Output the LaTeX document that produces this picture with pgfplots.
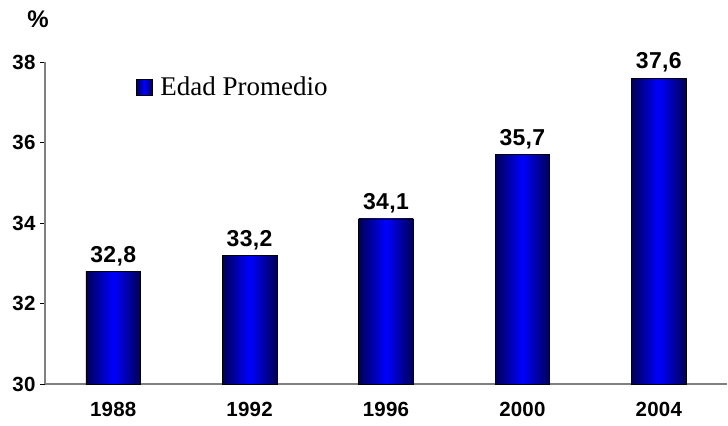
\documentclass[border=0pt]{standalone}
\usepackage{fontspec}
\setmainfont{Liberation Serif}
\setsansfont{Liberation Sans}
\usepackage{pgfplots}
\pgfplotsset{compat=1.18}

\definecolor{barDark}{RGB}{0,0,85}
\definecolor{barMid}{RGB}{0,0,255}
\definecolor{axisGray}{RGB}{128,128,128}

\pgfplotsset{
    edadbar/.style={draw=black, line width=0.5bp, bar shift=0pt,
        left color=barDark, right color=barDark, middle color=barMid},
}

\begin{document}
\begin{tikzpicture}
\begin{axis}[
    width=682bp, height=322bp,
    scale only axis,
    xmin=-0.5, xmax=4.5,
    ymin=30, ymax=38,
    ytick={30,32,34,36,38},
    xtick={0,1,2,3,4},
    xticklabels={1988,1992,1996,2000,2004},
    axis x line=bottom, axis y line=left,
    axis line style={-, draw=axisGray, line width=1.6bp},
    tick align=outside,
    major tick length=5bp,
    y tick style={black, line width=0.8bp},
    x tick style={draw=none},
    extra x ticks={0.5,1.5,2.5,3.5},
    extra x tick labels={},
    extra x tick style={major tick length=6bp, tick style={draw=black!80, line width=0.8bp}},
    ticklabel style={font=\fontsize{20.5bp}{22bp}\sffamily\bfseries\addfontfeature{LetterSpace=1}},
    yticklabel style={xshift=-1bp},
    xticklabel style={yshift=-10bp},
    /pgf/number format/assume math mode=true,
    clip=false,
    ybar, bar width=0.4,
    nodes near coords,
    nodes near coords style={font=\fontsize{23bp}{25bp}\sffamily\bfseries\addfontfeature{LetterSpace=1.5},
        yshift=2bp,
        /pgf/number format/.cd, use comma, fixed, fixed zerofill, precision=1},
    legend style={draw=none, fill=none, at={(rel axis cs:0.133,0.922)}, anchor=west,
        font=\fontsize{27bp}{29bp}\selectfont, inner sep=0pt,
        /tikz/every odd column/.append style={column sep=6bp}},
    legend image code/.code={
        \draw[draw=black, line width=0.6bp, left color=barDark, right color=barDark, middle color=barMid]
            (0bp,-8bp) rectangle (16bp,8bp);
    },
]
\addplot[edadbar] coordinates {(0,32.8)};
\addlegendentry{Edad Promedio}
\addplot[edadbar, forget plot] coordinates {(1,33.2)};
\addplot[edadbar, forget plot] coordinates {(2,34.1)};
\addplot[edadbar, forget plot] coordinates {(3,35.7)};
\addplot[edadbar, forget plot] coordinates {(4,37.6)};
\node[font=\fontsize{24bp}{26bp}\sffamily\bfseries] at ([xshift=-7bp, yshift=43bp]rel axis cs:0,1) {\%};
\path ([xshift=-45bp, yshift=-42bp]rel axis cs:0,0) rectangle ([xshift=1bp, yshift=62bp]rel axis cs:1,1);
\end{axis}
\end{tikzpicture}
\end{document}
